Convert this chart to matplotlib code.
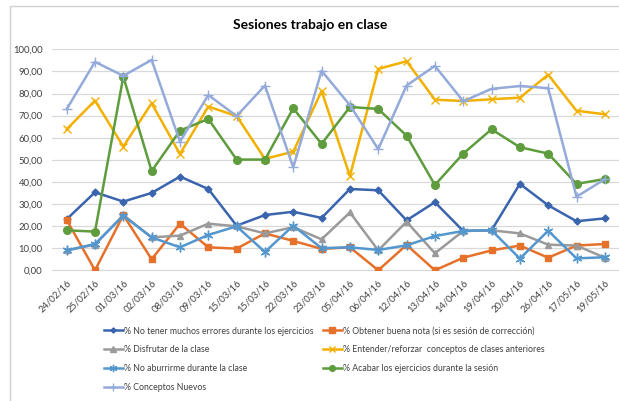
import matplotlib
matplotlib.use("Agg")
import matplotlib.pyplot as plt
from matplotlib.patches import Rectangle

fechas = ["24/02/16", "25/02/16", "01/03/16", "02/03/16", "08/03/16", "09/03/16",
          "15/03/16", "15/03/16", "22/03/16", "23/03/16", "05/04/16", "06/04/16",
          "12/04/16", "13/04/16", "14/04/16", "19/04/16", "20/04/16", "26/04/16",
          "17/05/16", "19/05/16"]

no_errores = [23.1, 35.3, 31.1, 35.0, 42.4, 36.8, 20.2, 25.0, 26.5, 23.7,
              36.8, 36.2, 22.6, 30.8, 17.8, 18.1, 39.1, 29.4, 22.2, 23.5]
buena_nota = [22.8, 0.0, 25.0, 5.0, 21.1, 10.4, 9.8, 16.7, 13.3, 9.7,
              10.4, 0.0, 11.5, 0.0, 5.7, 9.0, 11.2, 5.7, 11.2, 11.9]
disfrutar = [9.0, 11.6, 25.0, 14.9, 15.7, 21.1, 19.9, 16.7, 19.5, 14.0,
             26.2, 9.0, 22.0, 7.7, 17.8, 18.1, 16.7, 11.6, 11.2, 5.7]
entender = [63.8, 76.8, 56.0, 75.6, 52.6, 74.1, 69.8, 50.4, 53.7, 81.1,
            42.7, 91.1, 94.6, 77.2, 76.6, 77.4, 78.1, 88.5, 72.2, 70.6]
no_aburrirme = [9.0, 11.9, 24.7, 14.9, 10.4, 16.0, 19.9, 8.3, 20.2, 10.0,
                10.4, 9.2, 11.3, 15.5, 17.8, 18.1, 5.3, 17.9, 5.4, 5.9]
acabar = [18.1, 17.5, 87.6, 44.9, 63.2, 68.5, 50.1, 50.1, 73.3, 57.2,
          73.9, 73.0, 60.9, 38.6, 52.8, 63.8, 55.7, 52.8, 39.1, 41.3]
conceptos = [72.9, 94.3, 88.0, 95.2, 58.2, 79.3, 69.8, 83.6, 46.6, 90.3,
             74.7, 54.8, 83.6, 92.5, 76.5, 82.1, 83.4, 82.4, 33.3, 41.2]

series_names = ["% No tener muchos errores durante los ejercicios",
                "% Obtener buena nota (si es sesión de corrección)",
                "% Disfrutar de la clase",
                "% Entender/reforzar  conceptos de clases anteriores",
                "% No aburrirme durante la clase",
                "% Acabar los ejercicios durante la sesión",
                "% Conceptos Nuevos"]
y_ticks = [0, 10, 20, 30, 40, 50, 60, 70, 80, 90, 100]

plt.rcParams['font.family'] = ['Lato', 'DejaVu Sans']

fig = plt.figure(figsize=(6.19, 4.01), dpi=100)
fig.patches.append(Rectangle((10/619, -0.1), 1.2, 1 - 6/401 + 0.1, transform=fig.transFigure,
                             fill=False, edgecolor="#d0d0d0", lw=1.0))
ax = fig.add_axes([52.5/619, 1 - 270.3/401, 1 - 52.5/619, (270.3 - 49.3)/401])

x = list(range(len(fechas)))
data = [no_errores, buena_nota, disfrutar, entender, no_aburrirme, acabar, conceptos]
colors = ["#3A64AE", "#E5712B", "#9A9A9A", "#F2B000", "#5496CE", "#5E9C3D", "#94AADB"]
markers = ["D", "s", "^", "x", (6, 2, 0), "o", "+"]
msizes = [3.5, 5, 5, 6, 7, 5.5, 7]

handles = []
for d, c, m, ms, name in zip(data, colors, markers, msizes, series_names):
    h, = ax.plot(x, d, color=c, lw=1.8, marker=m, markersize=ms,
                 markeredgecolor=c, markerfacecolor=c, markeredgewidth=1.0,
                 label=name, zorder=3)
    handles.append(h)

ax.set_xlim(-0.5, len(fechas) - 0.5)
ax.set_ylim(0, 100)
ax.set_yticks(y_ticks)
ax.set_yticklabels([f"{v:.2f}".replace(".", ",") for v in y_ticks])
ax.set_xticks(x)
ax.set_xticklabels(fechas, rotation=45, ha="right", rotation_mode="anchor")
ax.grid(axis="y", color="#d9d9d9", lw=0.9, zorder=0)
for s in ["top", "right", "left"]:
    ax.spines[s].set_visible(False)
ax.spines["bottom"].set_color("#d9d9d9")
ax.tick_params(axis="both", length=0, labelsize=6.8, colors="#404040")
ax.tick_params(axis="x", pad=6)
ax.tick_params(axis="y", pad=7)

fig.text(310/619, 1 - 25/401, "Sesiones trabajo en clase", ha="center", va="center",
         fontsize=10, fontweight="bold", color="#000000")

leg_kw = dict(loc="upper left", frameon=False, fontsize=6.3, handlelength=2.17,
              labelspacing=1.13, handletextpad=0.15, borderaxespad=0, borderpad=0)
leg1 = fig.legend(handles=[handles[i] for i in [0, 2, 4, 6]],
                  bbox_to_anchor=(104/619, 1 - 326.5/401), **leg_kw)
leg2 = fig.legend(handles=[handles[i] for i in [1, 3, 5]],
                  bbox_to_anchor=(323/619, 1 - 326.5/401), **leg_kw)
for lg in (leg1, leg2):
    for t in lg.get_texts():
        t.set_color("#404040")
    for lh in lg.legend_handles:
        lh.set_markersize(lh.get_markersize() * 0.75)

fig.savefig("out.png", dpi=100)
